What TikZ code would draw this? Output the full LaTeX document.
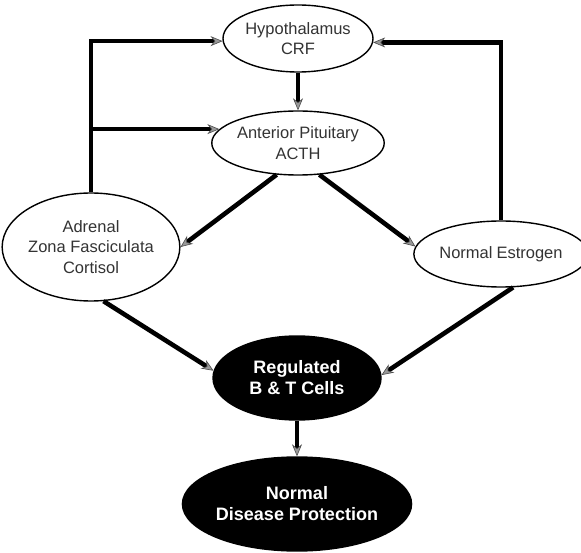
\documentclass[tikz,border=0pt]{standalone}
\usepackage{fontspec}
\setmainfont{Liberation Sans}
\usetikzlibrary{shapes.geometric,arrows.meta}
\begin{document}
\begin{tikzpicture}[x=1pt,y=-1pt,
  wnode/.style={ellipse, draw, line width=1.4pt, inner sep=0pt, align=center,
    font=\fontsize{16.5}{20.5}\selectfont, text=black!80},
  bnode/.style={ellipse, draw, fill=black, line width=1.4pt, inner sep=0pt, align=center,
    font=\fontsize{18}{21}\selectfont\bfseries, text=white},
  conn/.style={line width=4.6pt,
    -{Stealth[length=12pt,width=10pt,inset=4pt,line width=0.6pt,color=black!70,fill=black!40]}},
  feed/.style={conn, rounded corners=0pt}
]
\useasboundingbox (0,0) rectangle (581,553);
\node[wnode, minimum width=150pt, minimum height=67pt] (hyp) at (298,38.5) {Hypothalamus\\CRF};
\node[wnode, minimum width=150pt, minimum height=64pt] (ap) at (298,143) {Anterior Pituitary\\ACTH};
\node[wnode, minimum width=154pt, minimum height=108pt] (adr) at (91,247) {Adrenal\\Zona Fasciculata\\Cortisol};
\node[wnode, minimum width=154pt, minimum height=66pt] (est) at (501,254) {Normal\hspace{4pt}Estrogen};
\node[bnode, minimum width=168pt, minimum height=84pt] (reg) at (297,378) {Regulated\\B \& T Cells};
\node[bnode, minimum width=186pt, minimum height=94pt] (nd) at (297,504) {Normal\\Disease\hspace{5pt}Protection};

\draw[conn] (hyp.south) -- (ap.north);
\draw[conn] (ap.236) -- (adr.east);
\draw[conn] (ap.-56) -- (est.175);
\draw[conn] (adr.-77) -- (reg.175);
\draw[conn] (est.-70) -- (reg.2);
\draw[conn] (reg.south) -- (nd.north);
\draw[feed] (adr.north) |- (hyp.182);
\draw[conn] (adr.north |- ap.170) -- (ap.170);
\draw[feed] (est.north) |- (hyp.-3);
\end{tikzpicture}
\end{document}
